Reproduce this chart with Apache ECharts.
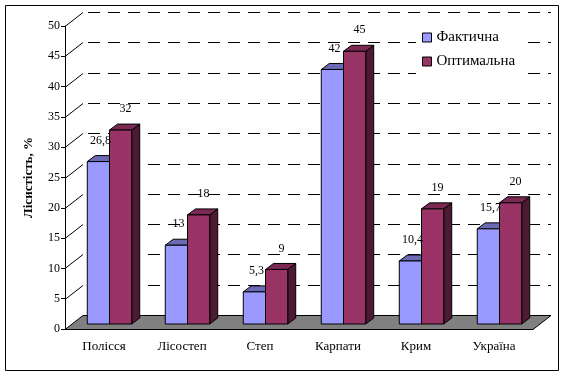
<!DOCTYPE html>
<html>
<head>
<meta charset="utf-8">
<script src="https://cdn.jsdelivr.net/npm/echarts@6/dist/echarts.min.js"></script>
<style>
  html, body { margin: 0; padding: 0; background: #fff; }
  #chart { width: 567px; height: 378px; }
</style>
</head>
<body>
<div id="chart"></div>
<script>
// дані
const regions = ['Полісся', 'Лісостеп', 'Степ', 'Карпати', 'Крим', 'Україна']
const actual = [26.8, 13, 5.3, 42, 10.4, 15.7]
const optimal = [32, 18, 9, 45, 19, 20]
const yTicks = [0, 5, 10, 15, 20, 25, 30, 35, 40, 45, 50]

const FONT = '"Liberation Serif", "Times New Roman", serif'
// глибина задньої стінки та стовпчиків
const WALL_DX = 18
const WALL_DY = -14
const BAR_SHIFT_X = 5.5
const BAR_SHIFT_Y = 5
const DEPTH_X = 8
const DEPTH_Y = -6

const crisp = v => Math.round(v) + 0.5

function renderWall (params, api) {
  const cs = params.coordSys
  const v = api.value(1)
  const y = crisp(api.coord([0, v])[1])
  const left = cs.x
  const right = cs.x + cs.width
  if (v === 0) {
    return {
      type: 'polygon',
      shape: { points: [[left, y], [left + WALL_DX, y + WALL_DY], [right + WALL_DX, y + WALL_DY], [right, y]] },
      style: { fill: '#808080', stroke: '#000', lineWidth: 1 }
    }
  }
  return {
    type: 'group',
    children: [
      {
        type: 'line',
        shape: { x1: left, y1: y, x2: left + WALL_DX, y2: y + WALL_DY },
        style: { stroke: '#000', lineWidth: 1 }
      },
      {
        type: 'line',
        shape: { x1: left + WALL_DX + 5, y1: y + WALL_DY, x2: right + WALL_DX, y2: y + WALL_DY },
        style: { stroke: '#000', lineWidth: 1, lineDash: [12, 8] }
      }
    ]
  }
}

function barRenderer (side, front, top, dark) {
  return function (params, api) {
    const i = api.value(0)
    const v = api.value(1)
    const band = api.size([1, 0])[0]
    const w = band * 0.285
    const base = api.coord([i, 0])
    const tip = api.coord([i, v])
    const x0 = base[0] + BAR_SHIFT_X - (side === 0 ? w : 0)
    const x1 = x0 + w
    const y0 = base[1] - BAR_SHIFT_Y
    const y1 = tip[1] - BAR_SHIFT_Y
    const line = { stroke: '#000', lineWidth: 1 }
    return {
      type: 'group',
      children: [
        {
          type: 'polygon',
          shape: { points: [[x1, y1], [x1 + DEPTH_X, y1 + DEPTH_Y], [x1 + DEPTH_X, y0 + DEPTH_Y], [x1, y0]] },
          style: Object.assign({ fill: dark }, line)
        },
        {
          type: 'polygon',
          shape: { points: [[x0, y1], [x0 + DEPTH_X, y1 + DEPTH_Y], [x1 + DEPTH_X, y1 + DEPTH_Y], [x1, y1]] },
          style: Object.assign({ fill: top }, line)
        },
        {
          type: 'rect',
          shape: { x: x0, y: y1, width: w, height: y0 - y1 },
          style: Object.assign({ fill: front }, line)
        },
        {
          type: 'text',
          z2: 100,
          x: (x0 + x1) / 2 + (side === 0 ? 2 : 5),
          y: y1 - 21,
          style: {
            text: String(v).replace('.', ','),
            fill: '#000',
            font: '12px ' + FONT,
            align: 'center',
            verticalAlign: 'middle'
          }
        }
      ]
    }
  }
}

const myChart = echarts.init(document.getElementById('chart'))

const option = {
  animation: false,
  textStyle: { fontFamily: FONT },
  graphic: [{
    type: 'rect',
    shape: { x: 5.5, y: 5.5, width: 553, height: 365 },
    style: { fill: 'none', stroke: '#000', lineWidth: 1 },
    z: 0
  }],
  legend: {
    data: ['Фактична', 'Оптимальна'],
    orient: 'vertical',
    left: 416,
    top: 24,
    padding: [6, 12, 6, 6],
    backgroundColor: '#fff',
    icon: 'rect',
    itemWidth: 9,
    itemHeight: 9,
    itemGap: 9,
    itemStyle: { borderColor: '#000', borderWidth: 1 },
    textStyle: { fontSize: 15, color: '#000', fontFamily: FONT }
  },
  grid: { left: 65, right: 34, top: 26, bottom: 49 },
  xAxis: {
    type: 'category',
    data: regions,
    axisLine: { lineStyle: { color: '#000' } },
    axisTick: { length: 4, lineStyle: { color: '#000' } },
    axisLabel: { color: '#000', fontSize: 13, margin: 11, fontFamily: FONT }
  },
  yAxis: {
    type: 'value',
    min: 0,
    max: 50,
    interval: 5,
    name: 'Лісистість, %',
    nameLocation: 'middle',
    nameGap: 30,
    nameTextStyle: { color: '#000', fontSize: 13, fontWeight: 'bold', fontFamily: FONT },
    axisLine: { show: true, lineStyle: { color: '#000' } },
    axisTick: { show: true, length: 4, lineStyle: { color: '#000' } },
    axisLabel: { color: '#000', fontSize: 12, margin: 5, fontFamily: FONT },
    splitLine: { show: false }
  },
  series: [
    {
      type: 'custom',
      name: 'wall',
      renderItem: renderWall,
      data: yTicks.map(v => [0, v]),
      encode: { x: 0, y: 1 },
      silent: true
    },
    {
      type: 'custom',
      name: 'Фактична',
      itemStyle: { color: '#9999FF' },
      renderItem: barRenderer(0, '#9999FF', '#6B6BB3', '#4D4D80'),
      data: actual.map((v, i) => [i, v]),
      encode: { x: 0, y: 1 }
    },
    {
      type: 'custom',
      name: 'Оптимальна',
      itemStyle: { color: '#993366' },
      renderItem: barRenderer(1, '#993366', '#7A2952', '#4D1A33'),
      data: optimal.map((v, i) => [i, v]),
      encode: { x: 0, y: 1 }
    }
  ]
}

myChart.setOption(option)
</script>
</body>
</html>
